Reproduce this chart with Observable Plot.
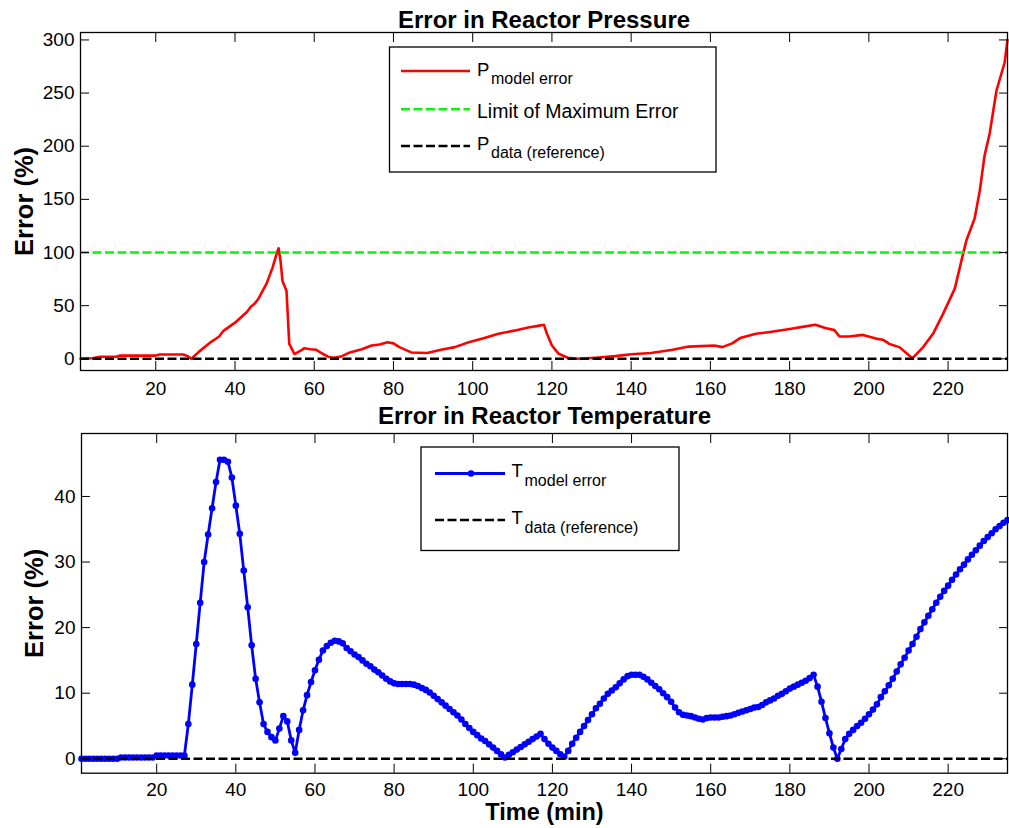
<!DOCTYPE html>
<html>
<head>
<meta charset="utf-8">
<script src="https://cdn.jsdelivr.net/npm/d3@7"></script>
<script src="https://cdn.jsdelivr.net/npm/@observablehq/plot@0.6"></script>
<style>
  body { margin: 0; background: #fff; }
  #wrap { position: relative; width: 1009px; height: 828px; font-family: "Liberation Sans", Arial, sans-serif; }
  #wrap > svg { display: block; }
  #legends { position: absolute; left: 0; top: 0; pointer-events: none; }
</style>
</head>
<body>
<div id="wrap"></div>
<script>
// ---- Data ----
const xTicks = [20, 40, 60, 80, 100, 120, 140, 160, 180, 200, 220];
const pTicks = [0, 50, 100, 150, 200, 250, 300];
const tTicks = [0, 10, 20, 30, 40];

const limitValue = 100;      // Limit of Maximum Error (%)
const referenceValue = 0;    // data (reference) line

// Pressure model error (%) vs time (min)
const pTime = [1,4,6,10,11,20,21,27,28,29,31,34,36,37,40,43,44,45,46,48,49.5,50.6,51,51.5,52,53,53.7,55,56.7,57.5,59,60.5,62,63.5,65,67,69,72,74.5,76.5,78.5,80,81.5,84.5,88.5,92,95.5,99,102.5,106.5,110.5,114,116.5,118,118.7,120,121.7,124,126.5,131,136,140,145,150.5,154.5,161,163,165.5,167.5,171.5,175.5,180,184,186.5,189,191.3,192.6,195,198.5,201.8,203.5,205.2,207.7,211,213.7,216.2,218.7,221.7,223.8,224.6,226.7,228,229.2,230.5,232.2,234.3,235];
const pError = [0,0.5,2,2,3,3,4,4,2.5,0,7,16,21,26,34,44,49,52,57,71,86,100,104,92,73,64,14,4.5,8,10,9,8.5,5,2,1,2.5,6,9,12.5,13.5,15.5,14.5,11,6,5.5,8.5,11,15.5,19,23.5,26.5,29.5,31,32,24,12.5,4.7,1,0,1,2.5,4.3,5.5,8.5,11.5,12.5,11,14.5,19.5,23.5,25.5,28,30.5,32,29,27,21,21,22.5,19,18,14,11,0.5,11,23.5,42,66,99,111,132,158,191,212,252,279,300];

// Temperature model error (%), one sample per minute, t = 1 ... 235
const tError = [
  0,0,0,0,0,0,0,0,0,0,
  0.2,0.2,0.2,0.2,0.2,0.2,0.2,0.2,0.2,0.5,
  0.5,0.5,0.5,0.5,0.5,0.5,0.5,5.3,11.3,17.5,
  23.8,30.0,34.2,38.2,42.2,45.6,45.6,45.3,42.9,38.6,
  34.3,28.7,23.1,17.3,12.2,8.6,5.3,4.1,3.3,2.8,
  4.6,6.5,5.7,2.8,0.9,4.4,7.4,9.7,11.7,13.5,
  15.1,16.5,17.2,17.7,18.0,17.9,17.6,16.9,16.4,15.9,
  15.5,15.0,14.5,14.1,13.6,13.2,12.7,12.2,11.8,11.5,
  11.4,11.4,11.4,11.4,11.3,11.1,10.8,10.5,10.1,9.6,
  9.1,8.6,8.1,7.6,7.1,6.6,6.0,5.3,4.7,4.1,
  3.6,3.1,2.7,2.2,1.7,1.2,0.7,0.2,0.6,1.0,
  1.4,1.8,2.2,2.6,3.0,3.4,3.8,3.0,2.3,1.7,
  1.2,0.7,0.3,1.2,2.3,3.2,4.1,5.0,5.9,6.8,
  7.7,8.4,9.2,9.9,10.4,10.9,11.5,12.1,12.6,12.8,
  12.8,12.8,12.5,12.1,11.6,11.1,10.6,10.0,9.4,8.7,
  7.8,7.1,6.7,6.6,6.5,6.3,6.1,6.0,6.2,6.3,
  6.3,6.3,6.4,6.5,6.6,6.8,7.0,7.2,7.4,7.6,
  7.8,7.9,8.2,8.6,8.9,9.2,9.6,9.9,10.3,10.7,
  11.0,11.3,11.6,11.9,12.3,12.8,11.0,8.7,6.2,3.9,
  1.7,0.0,1.5,3.0,3.8,4.4,5.0,5.5,6.1,6.8,
  7.5,8.3,9.4,10.3,11.2,12.2,13.3,14.4,15.4,16.5,
  17.5,18.6,19.8,20.8,21.8,22.8,23.8,24.7,25.6,26.4,
  27.3,28.1,28.9,29.6,30.4,31.1,31.8,32.5,33.2,33.8,
  34.4,35.0,35.5,36.0,36.4
];
const tTime = tError.map((_, i) => i + 1);

// ---- Styling ----
const FONT = '"Liberation Sans", Arial, Helvetica, sans-serif';
const RED = "#ff0000", GREEN = "#11ee11", BLUE = "#0000ff", BLACK = "#000000";
const DASH = "9,3.5";
const blank = () => "";

function axes(xt, yt, padX) {
  return [
    Plot.axisX({ticks: xt, anchor: "bottom", tickSize: 0, tickPadding: padX, fontSize: 19, label: null}),
    Plot.axisX({ticks: xt, anchor: "bottom", tickSize: -9, tickFormat: blank, label: null}),
    Plot.axisX({ticks: xt, anchor: "top", tickSize: -9, tickFormat: blank, label: null}),
    Plot.axisY({ticks: yt, anchor: "left", tickSize: 0, tickPadding: 6, fontSize: 19, label: null}),
    Plot.axisY({ticks: yt, anchor: "left", tickSize: -9, tickFormat: blank, label: null}),
    Plot.axisY({ticks: yt, anchor: "right", tickSize: -9, tickFormat: blank, label: null}),
    Plot.frame({stroke: BLACK, strokeWidth: 1.3})
  ];
}

const topPlot = Plot.plot({
  width: 1009, height: 395,
  marginLeft: 80, marginRight: 2, marginTop: 32, marginBottom: 25,
  style: {fontFamily: FONT, fontSize: "19px", color: "black", background: "white", overflow: "visible"},
  x: {domain: [1, 235]},
  y: {domain: [-11, 307]},
  marks: [
    Plot.line(pTime, {x: pTime, y: pError, stroke: RED, strokeWidth: 2.6}),
    Plot.ruleY([limitValue], {stroke: GREEN, strokeWidth: 2.6, strokeDasharray: DASH}),
    Plot.ruleY([referenceValue], {stroke: BLACK, strokeWidth: 2.6, strokeDasharray: DASH}),
    ...axes(xTicks, pTicks, 10.5),
    Plot.text(["Error in Reactor Pressure"], {text: d => d, frameAnchor: "top", textAnchor: "middle", lineAnchor: "bottom", dy: -5, fontSize: 24, fontWeight: "bold"}),
    Plot.text(["Error (%)"], {text: d => d, frameAnchor: "left", textAnchor: "middle", lineAnchor: "bottom", rotate: -90, dx: -48, fontSize: 25.5, fontWeight: "bold"})
  ]
});

const bottomPlot = Plot.plot({
  width: 1009, height: 433,
  marginLeft: 81, marginRight: 2, marginTop: 38, marginBottom: 55.3,
  style: {fontFamily: FONT, fontSize: "19px", color: "black", background: "white", overflow: "visible"},
  x: {domain: [1, 235]},
  y: {domain: [-2.2, 49.6]},
  marks: [
    Plot.line(tTime, {x: tTime, y: tError, stroke: BLUE, strokeWidth: 2.8}),
    Plot.dot(tTime, {x: tTime, y: tError, r: 3.3, fill: BLUE, stroke: "none"}),
    Plot.ruleY([referenceValue], {stroke: BLACK, strokeWidth: 2.6, strokeDasharray: DASH}),
    ...axes(xTicks, tTicks, 9.5),
    Plot.text(["Error in Reactor Temperature"], {text: d => d, frameAnchor: "top", textAnchor: "middle", lineAnchor: "bottom", dy: -10, fontSize: 24, fontWeight: "bold"}),
    Plot.text(["Time (min)"], {text: d => d, frameAnchor: "bottom", textAnchor: "middle", lineAnchor: "bottom", dy: 46.5, fontSize: 23.5, fontWeight: "bold"}),
    Plot.text(["Error (%)"], {text: d => d, frameAnchor: "left", textAnchor: "middle", lineAnchor: "bottom", rotate: -90, dx: -38.5, fontSize: 25.5, fontWeight: "bold"})
  ]
});

const wrap = document.getElementById("wrap");
wrap.appendChild(topPlot);
wrap.appendChild(bottomPlot);

// ---- Legends (overlay) ----
const legendSvg = `
<svg id="legends" width="1009" height="828" xmlns="http://www.w3.org/2000/svg" font-family='${FONT}'>
  <rect x="389.5" y="47" width="326.5" height="125" fill="white" stroke="black" stroke-width="1.3"/>
  <line x1="401" x2="470" y1="71" y2="71" stroke="${RED}" stroke-width="2.6"/>
  <text x="477" y="75.5" font-size="18.5">P</text>
  <text x="491" y="83.5" font-size="16">model error</text>
  <line x1="401" x2="470" y1="109.3" y2="109.3" stroke="${GREEN}" stroke-width="2.6" stroke-dasharray="${DASH}"/>
  <text x="477" y="118.3" font-size="19.5">Limit of Maximum Error</text>
  <line x1="401" x2="470" y1="146" y2="146" stroke="${BLACK}" stroke-width="2.6" stroke-dasharray="${DASH}"/>
  <text x="477" y="150" font-size="18.5">P</text>
  <text x="491" y="158.3" font-size="16">data (reference)</text>

  <rect x="421" y="447" width="258" height="103.5" fill="white" stroke="black" stroke-width="1.3"/>
  <line x1="435" x2="505" y1="473.5" y2="473.5" stroke="${BLUE}" stroke-width="2.8"/>
  <circle cx="471" cy="473.5" r="3.3" fill="${BLUE}"/>
  <text x="511.5" y="477" font-size="18.5">T</text>
  <text x="524.5" y="486" font-size="16">model error</text>
  <line x1="435" x2="505" y1="520" y2="520" stroke="${BLACK}" stroke-width="2.6" stroke-dasharray="${DASH}"/>
  <text x="511.5" y="524.3" font-size="18.5">T</text>
  <text x="524.5" y="533.3" font-size="16">data (reference)</text>
</svg>`;
wrap.insertAdjacentHTML("beforeend", legendSvg);
</script>
</body>
</html>
